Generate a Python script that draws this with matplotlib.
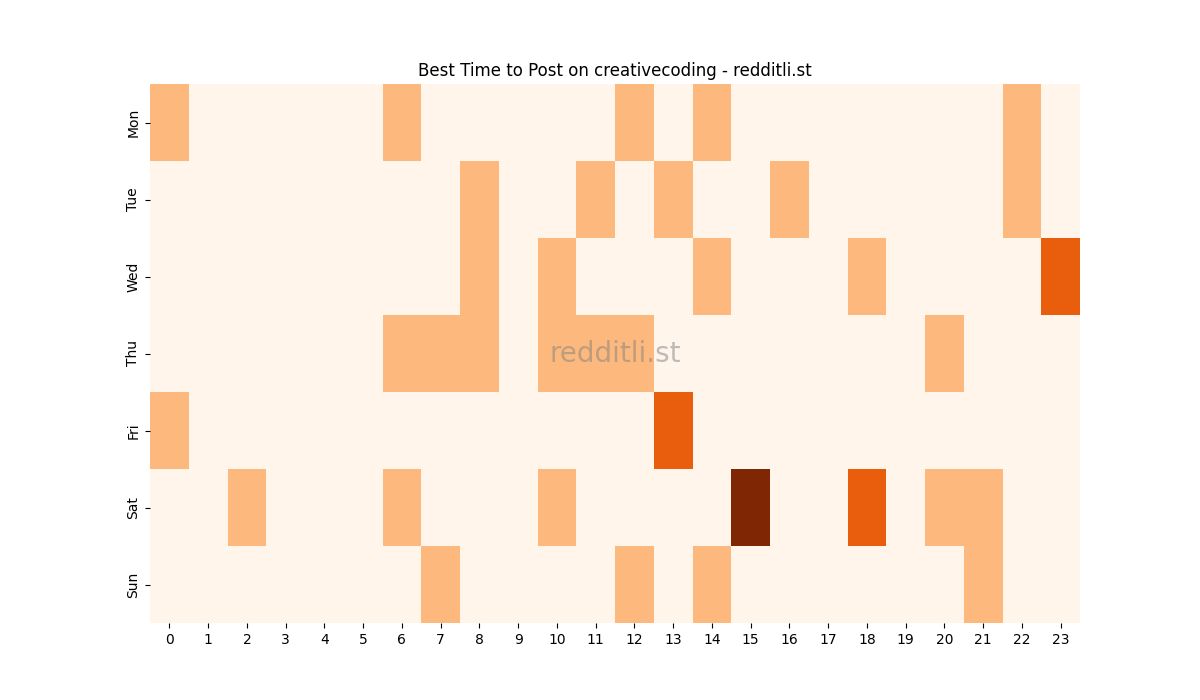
import numpy as np
import matplotlib
matplotlib.use("Agg")
import matplotlib.pyplot as plt
import seaborn as sns

days = ["Mon", "Tue", "Wed", "Thu", "Fri", "Sat", "Sun"]
hours = list(range(24))
posts = {
    "Mon": {0: 1, 6: 1, 12: 1, 14: 1, 22: 1},
    "Tue": {8: 1, 11: 1, 13: 1, 16: 1, 22: 1},
    "Wed": {8: 1, 10: 1, 14: 1, 18: 1, 23: 2},
    "Thu": {6: 1, 7: 1, 8: 1, 10: 1, 11: 1, 12: 1, 20: 1},
    "Fri": {0: 1, 13: 2},
    "Sat": {2: 1, 6: 1, 10: 1, 15: 3, 18: 2, 20: 1, 21: 1},
    "Sun": {7: 1, 12: 1, 14: 1, 21: 1},
}

data = np.zeros((len(days), len(hours)))
for i, d in enumerate(days):
    for h, v in posts[d].items():
        data[i, h] = v

fig = plt.figure(figsize=(12, 7), dpi=100)
ax = fig.add_subplot(111)
sns.heatmap(data, cmap="Oranges", cbar=False, ax=ax, xticklabels=hours, yticklabels=days)
ax.set_yticklabels(days, rotation=90, va="center")
ax.set_xticklabels(hours, rotation=0)
ax.set_title("Best Time to Post on creativecoding - redditli.st")
ax.text(0.5, 0.5, "redditli.st", transform=ax.transAxes, ha="center", va="center",
        fontsize=20, color="grey", alpha=0.5)
fig.savefig("out.png", dpi=100)
